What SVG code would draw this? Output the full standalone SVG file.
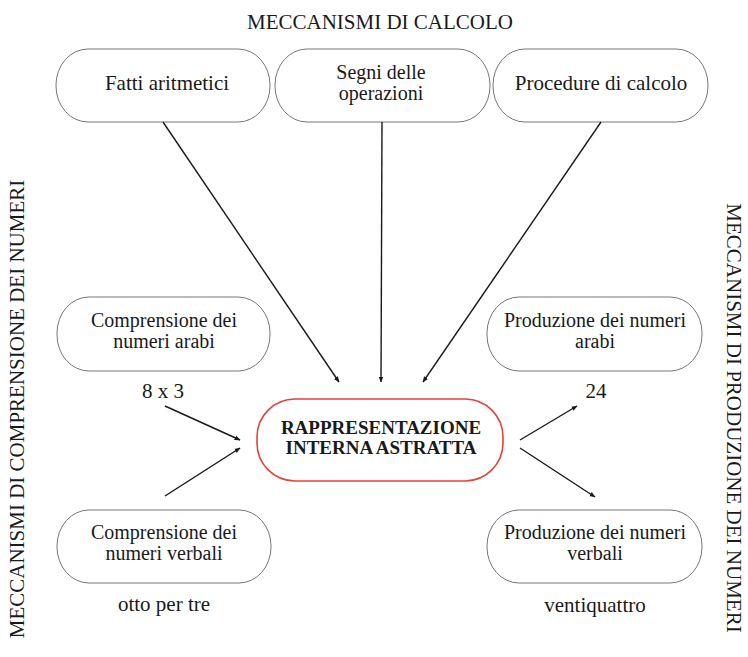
<svg xmlns="http://www.w3.org/2000/svg" width="748" height="657" viewBox="0 0 748 657">
<defs>
<style>
text{font-family:"Liberation Serif","Times New Roman",serif;font-size:21px;fill:#1a1a1a;text-anchor:middle}
.two{font-size:20px}
.box{fill:#fff;stroke:#777;stroke-width:1}
.core{fill:#fff;stroke:#e8403a;stroke-width:1.6}
.bold{font-weight:bold;font-size:19px}
.conn line{stroke:#1a1a1a;stroke-width:1.4;marker-end:url(#ah)}
</style>
<marker id="ah" viewBox="0 0 10 10" refX="9" refY="5" markerWidth="6" markerHeight="6" orient="auto" markerUnits="userSpaceOnUse">
<path d="M0,1 L10,5 L0,9 Z" fill="#1a1a1a"/>
</marker>
</defs>
<rect width="748" height="657" fill="#fff"/>

<text x="380" y="29">MECCANISMI DI CALCOLO</text>
<text transform="translate(24,409) rotate(-90)">MECCANISMI DI COMPRENSIONE DEI NUMERI</text>
<text transform="translate(727,418) rotate(90)">MECCANISMI DI PRODUZIONE DEI NUMERI</text>

<g id="fatti">
<rect class="box" x="56" y="49" width="214" height="73" rx="32" ry="36"/>
<text x="167" y="90">Fatti aritmetici</text>
</g>
<g id="segni">
<rect class="box" x="275" y="49" width="215" height="73" rx="32" ry="36"/>
<text class="two" x="381" y="79">Segni delle</text>
<text class="two" x="381" y="100">operazioni</text>
</g>
<g id="procedure">
<rect class="box" x="493" y="49" width="215" height="73" rx="32" ry="36"/>
<text x="601" y="90">Procedure di calcolo</text>
</g>

<g id="comp-arabi">
<rect class="box" x="57" y="297" width="213" height="74" rx="32" ry="36"/>
<text class="two" x="164" y="327">Comprensione dei</text>
<text class="two" x="164" y="348">numeri arabi</text>
</g>
<g id="comp-verbali">
<rect class="box" x="57" y="510" width="214" height="73" rx="32" ry="36"/>
<text class="two" x="164" y="539">Comprensione dei</text>
<text class="two" x="164" y="560">numeri verbali</text>
</g>
<g id="prod-arabi">
<rect class="box" x="487" y="297" width="215" height="74" rx="32" ry="36"/>
<text class="two" x="595" y="327">Produzione dei numeri</text>
<text class="two" x="595" y="348">arabi</text>
</g>
<g id="prod-verbali">
<rect class="box" x="487" y="510" width="215" height="73" rx="32" ry="36"/>
<text class="two" x="595" y="539">Produzione dei numeri</text>
<text class="two" x="595" y="560">verbali</text>
</g>

<g id="rappresentazione">
<rect class="core" x="257" y="399" width="246" height="82" rx="38" ry="38"/>
<text class="bold" x="381" y="434">RAPPRESENTAZIONE</text>
<text class="bold" x="381" y="454">INTERNA ASTRATTA</text>
</g>

<g id="labels">
<text x="163" y="398">8 x 3</text>
<text x="164" y="611">otto per tre</text>
<text x="596" y="398">24</text>
<text x="595" y="612">ventiquattro</text>
</g>

<g class="conn" id="connectors">
<line x1="163" y1="122" x2="339" y2="382"/>
<line x1="382" y1="122" x2="381" y2="382"/>
<line x1="601" y1="122" x2="423" y2="382"/>
<line x1="165" y1="406" x2="240" y2="440"/>
<line x1="165" y1="496" x2="240" y2="448"/>
<line x1="520" y1="440" x2="577" y2="406"/>
<line x1="520" y1="448" x2="595" y2="497"/>
</g>
</svg>
